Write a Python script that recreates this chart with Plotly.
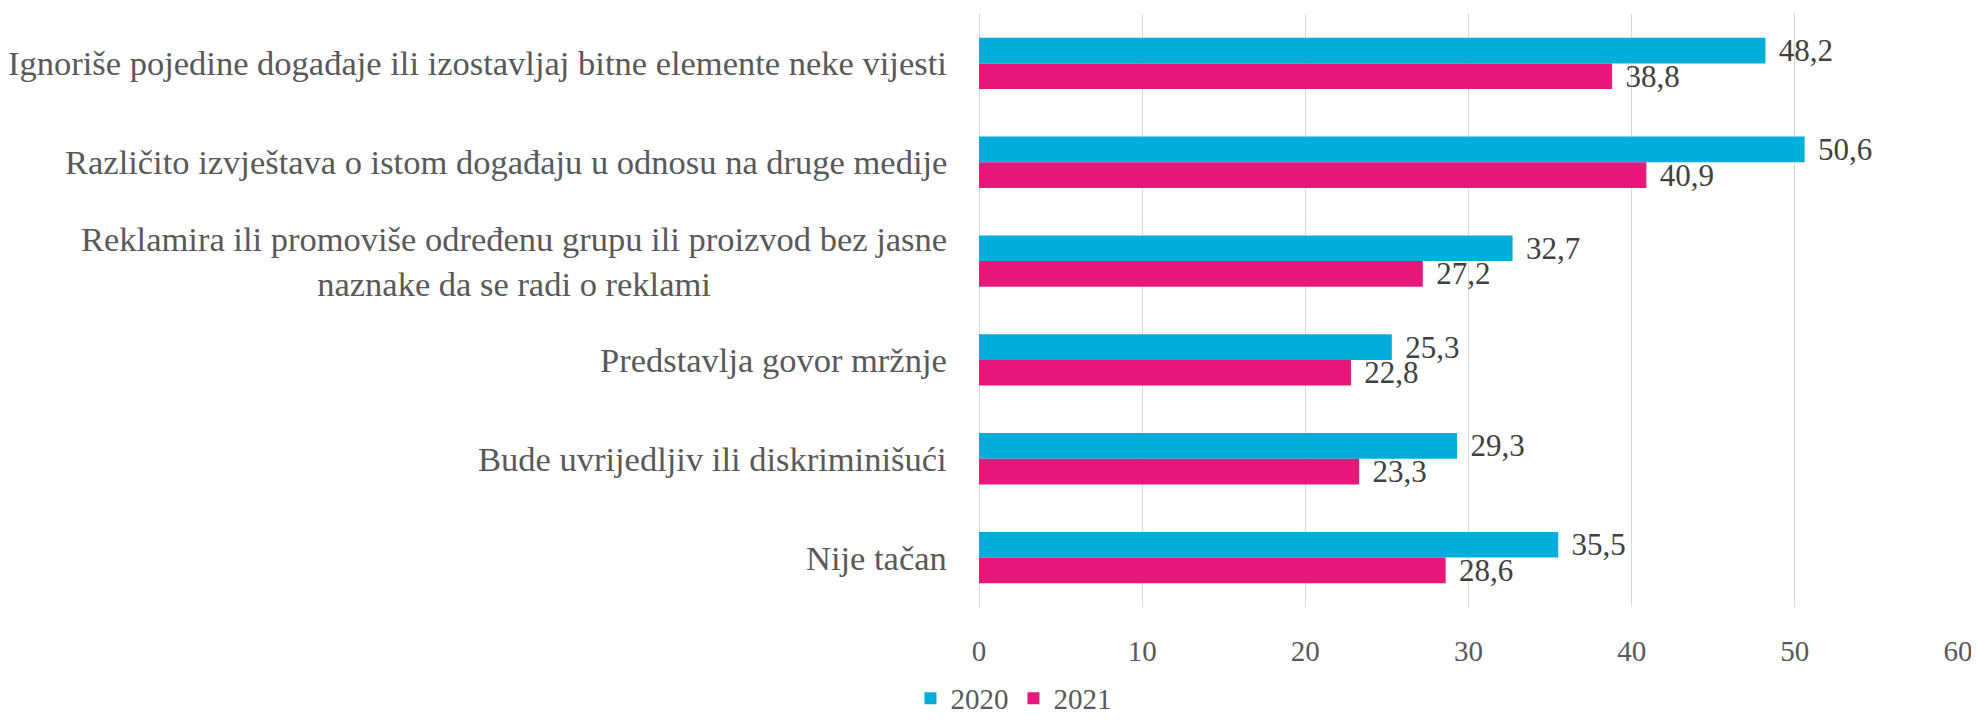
import plotly.graph_objects as go

categories = [
    "Ignoriše pojedine događaje ili izostavljaj bitne elemente neke vijesti",
    "Različito izvještava o istom događaju u odnosu na druge medije",
    "Reklamira ili promoviše određenu grupu ili proizvod bez jasne<br>naznake da se radi o reklami",
    "Predstavlja govor mržnje",
    "Bude uvrijedljiv ili diskriminišući",
    "Nije tačan",
]
series_names = ["2020", "2021"]
values_2020 = [48.2, 50.6, 32.7, 25.3, 29.3, 35.5]
values_2021 = [38.8, 40.9, 27.2, 22.8, 23.3, 28.6]
x_ticks = [0, 10, 20, 30, 40, 50, 60]
colors = ["#00AEDB", "#E8187B"]

FONT = "Liberation Serif"

def fmt(v):
    return (" \u200a" + f"{v:.1f}").replace(".", ",")

fig = go.Figure()
for name, vals, col in zip(series_names, [values_2020, values_2021], colors):
    fig.add_trace(go.Bar(
        y=categories, x=vals, name=name, orientation="h",
        marker=dict(color=col, line=dict(width=0)),
        text=[fmt(v) for v in vals], textposition="outside",
        constraintext="none", cliponaxis=False,
        textfont=dict(family=FONT, size=31, color="#404040"),
    ))

for c in categories:
    fig.add_annotation(
        x=0, xref="paper", y=c, yref="y", text=c, showarrow=False,
        xanchor="right", yanchor="middle", align="center", xshift=-30,
        font=dict(family=FONT, size=34.5, color="#595959"),
    )

# page body has an 8px default margin; sizes compensate for it
fig.update_layout(
    width=1971, height=717,
    margin=dict(l=971, r=21, t=6, b=118, autoexpand=False),
    paper_bgcolor="white", plot_bgcolor="white",
    barmode="group", bargap=0.48, bargroupgap=0,
    font=dict(family=FONT, color="#595959"),
    showlegend=True,
    legend=dict(
        orientation="h", x=-0.07, xanchor="left", y=-0.197, yanchor="bottom",
        font=dict(family=FONT, size=29, color="#595959"),
        traceorder="normal", itemwidth=30,
    ),
)
fig.update_xaxes(
    range=[0, 60], tickvals=x_ticks, ticktext=[str(t) for t in x_ticks],
    showgrid=True, gridcolor="#D9D9D9", gridwidth=1,
    zeroline=True, zerolinecolor="#D9D9D9", zerolinewidth=1,
    showline=False, ticks="", ticklabelstandoff=24,
    tickfont=dict(family=FONT, size=29, color="#595959"),
)
fig.update_yaxes(
    autorange="reversed", showticklabels=False, showgrid=False,
    showline=False, ticks="", zeroline=False,
)

fig.write_html("out.html")
